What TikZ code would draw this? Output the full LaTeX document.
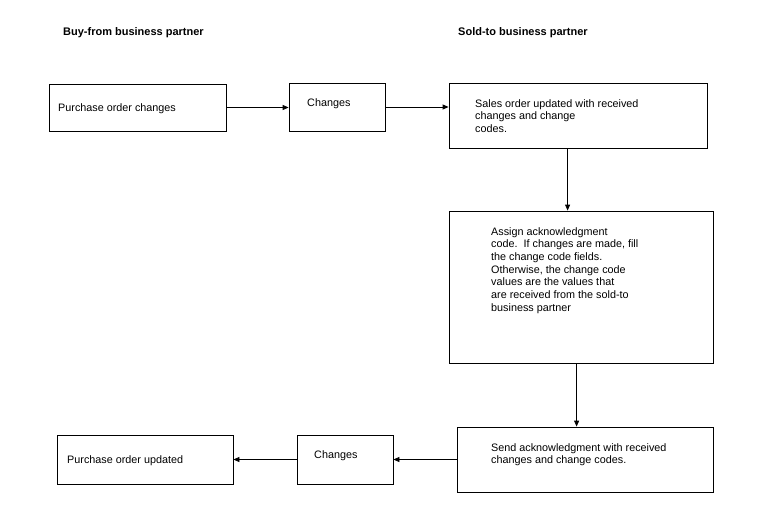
\documentclass[tikz,border=0pt]{standalone}
\usepackage{fontspec}
\setmainfont{Liberation Sans}
\usetikzlibrary{arrows.meta}
\begin{document}
\begin{tikzpicture}[x=1pt,y=-1pt,
  box/.style={draw,line width=0.8pt,inner sep=0pt},
  lbl/.style={inner sep=0pt,anchor=north west,align=left,font=\fontsize{10.8}{12.7}\selectfont},
  head/.style={inner sep=0pt,anchor=west,font=\fontsize{11}{13}\selectfont\bfseries},
  conn/.style={line width=0.8pt,-{Triangle[length=6pt,width=5pt]}}]
\useasboundingbox (0,0) rectangle (773,527);
% boxes
\node[box,minimum width=177pt,minimum height=47pt] (b1) at (137.5,107.5) {};
\node[box,minimum width=96pt,minimum height=48pt] (b2) at (337,107) {};
\node[box,minimum width=258pt,minimum height=65pt] (b3) at (578,115.5) {};
\node[box,minimum width=264pt,minimum height=152pt] (b4) at (581,287) {};
\node[box,minimum width=256pt,minimum height=65pt] (b5) at (585,459.5) {};
\node[box,minimum width=96pt,minimum height=49pt] (b6) at (345,459.5) {};
\node[box,minimum width=176pt,minimum height=49pt] (b7) at (145,459.5) {};
% headings
\node[head] (h1) at (63,33) {Buy-from business partner};
\node[head] (h2) at (458,33) {Sold-to business partner};
% texts
\node[lbl] (t1) at (58,103) {Purchase order changes};
\node[lbl] (t2) at (307,98) {Changes};
\node[lbl] (t3) at (475,99) {Sales order updated with received\\changes and change\\codes.};
\node[lbl] (t4) at (491,227) {Assign acknowledgment\\code.\ \ If changes are made, fill\\the change code fields.\\Otherwise, the change code\\values are the values that\\are received from the sold-to\\business partner};
\node[lbl] (t5) at (491,443) {Send acknowledgment with received\\changes and change codes.};
\node[lbl] (t6) at (314,450) {Changes};
\node[lbl] (t7) at (67,455) {Purchase order updated};
% connectors
\coordinate (c3) at ([xshift=119pt]b3.south west);
\coordinate (c4) at ([xshift=128pt]b4.south west);
\draw[conn] (b1.east) -- (b1.east -| b2.west);
\draw[conn] (b2.east) -- (b2.east -| b3.west);
\draw[conn] (c3) -- (c3 |- b4.north);
\draw[conn] (c4) -- (c4 |- b5.north);
\draw[conn] (b5.west) -- (b5.west -| b6.east);
\draw[conn] (b6.west) -- (b7.east);
\end{tikzpicture}
\end{document}
